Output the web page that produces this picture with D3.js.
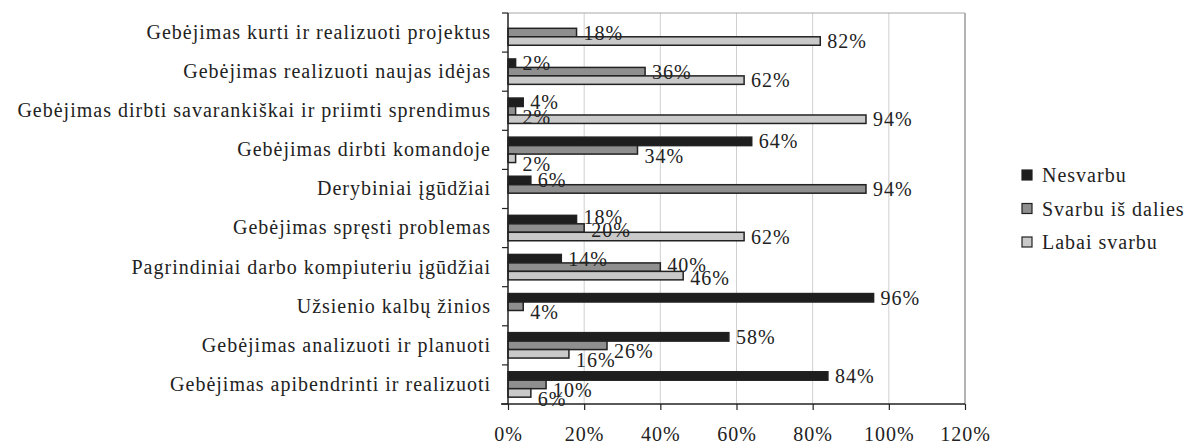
<!DOCTYPE html>
<html>
<head>
<meta charset="utf-8">
<script src="https://cdn.jsdelivr.net/npm/d3@7"></script>
<style>
  body { margin: 0; background: #fff; }
  svg text { font-family: "Liberation Serif", "Times New Roman", serif; fill: #222; font-size: 20px; letter-spacing: 1px; }
</style>
</head>
<body>
<svg></svg>
<script>
let categories = [
  'Gebėjimas kurti ir realizuoti projektus',
  'Gebėjimas realizuoti naujas idėjas',
  'Gebėjimas dirbti savarankiškai ir priimti sprendimus',
  'Gebėjimas dirbti komandoje',
  'Derybiniai įgūdžiai',
  'Gebėjimas spręsti problemas',
  'Pagrindiniai darbo kompiuteriu įgūdžiai',
  'Užsienio kalbų žinios',
  'Gebėjimas analizuoti ir planuoti',
  'Gebėjimas apibendrinti ir realizuoti'
]
let seriesNames = ['Nesvarbu', 'Svarbu iš dalies', 'Labai svarbu']
let nesvarbu = [0, 2, 4, 64, 6, 18, 14, 96, 58, 84]
let svarbuIsDalies = [18, 36, 2, 34, 94, 20, 40, 4, 26, 10]
let labaiSvarbu = [82, 62, 94, 2, 0, 62, 46, 0, 16, 6]
let xTicks = [0, 20, 40, 60, 80, 100, 120]

let colors = ['#1e1e1e', '#8f8f8f', '#c9c9c9']

let width = 1196
let height = 446
let plotLeft = 508
let plotRight = 965
let plotTop = 13
let plotBottom = 404

let svg = d3.select('svg')
  .attr('width', width)
  .attr('height', height)

let rows = categories.map((c, i) => {
  return {name: c, values: [nesvarbu[i], svarbuIsDalies[i], labaiSvarbu[i]]}
})

let xScale = d3.scaleLinear()
  .domain([0, 120])
  .range([plotLeft, plotRight])

let yScale = d3.scaleBand()
  .domain(categories)
  .range([plotTop, plotBottom])
  .paddingInner(0.35)
  .paddingOuter(0.175)

let subScale = d3.scaleBand()
  .domain(d3.range(seriesNames.length))
  .range([0, yScale.bandwidth()])

// gridlines
svg.append('g')
  .selectAll('line')
  .data(xTicks.slice(1))
  .enter()
  .append('line')
  .attr('x1', d => xScale(d))
  .attr('x2', d => xScale(d))
  .attr('y1', plotTop)
  .attr('y2', plotBottom)
  .attr('stroke', (d, i) => i === xTicks.length - 2 ? '#9a9a9a' : '#cfcfcf')
  .attr('stroke-width', (d, i) => i === xTicks.length - 2 ? 1.5 : 1)

svg.append('line')
  .attr('x1', plotLeft).attr('x2', plotRight)
  .attr('y1', plotTop).attr('y2', plotTop)
  .attr('stroke', '#a8a8a8')
  .attr('stroke-width', 1.2)

let barLayer = svg.append('g')
let labelLayer = svg.append('g')

// bars and value labels
rows.forEach(row => {
  let y0 = yScale(row.name)
  let labels = []
  row.values.forEach((v, s) => {
    if (v <= 0) return
    barLayer.append('rect')
      .attr('x', xScale(0))
      .attr('y', y0 + subScale(s))
      .attr('width', xScale(v) - xScale(0))
      .attr('height', subScale.bandwidth())
      .attr('fill', colors[s])
      .attr('stroke', '#222')
      .attr('stroke-width', 1.5)
    let x0 = xScale(v) + 7
    let t = labelLayer.append('text')
      .attr('x', x0)
      .attr('dy', '0.35em')
      .text(v + '%')
    let w = t.node().getComputedTextLength()
    // a longer bar just above would hide the top of the label: drop it a little
    let blocked = s > 0 && xScale(row.values[s - 1]) > x0 - 4
    labels.push({
      t: t, x0: x0, x1: x0 + w - 2, blocked: blocked,
      y: y0 + subScale(s) + subScale.bandwidth() / 2 + (blocked ? 6 : 0)
    })
  })
  // push apart labels that sit on top of each other
  let minGap = 13
  for (let k = 0; k < 6; k++) {
    for (let a = 0; a < labels.length; a++) {
      for (let b = a + 1; b < labels.length; b++) {
        let la = labels[a], lb = labels[b]
        if (la.x1 < lb.x0 || lb.x1 < la.x0) continue
        let gap = lb.y - la.y
        if (gap < minGap) {
          if (la.blocked) {
            lb.y += minGap - gap
          } else {
            let shift = (minGap - gap) / 2
            la.y -= shift
            lb.y += shift
          }
        }
      }
    }
  }
  labels.forEach(l => l.t.attr('y', Math.min(l.y, plotBottom - 5)))
})

// axes
let xAxis = d3.axisBottom(xScale)
  .tickValues(xTicks)
  .tickFormat(d => d + '%')
  .tickSize(6)
  .tickPadding(17)

let gx = svg.append('g')
  .attr('transform', 'translate(0,' + plotBottom + ')')
  .call(xAxis)
gx.attr('font-size', null).attr('font-family', null)
gx.select('.domain').remove()
gx.append('line')
  .attr('x1', plotLeft - 7).attr('x2', plotRight)
  .attr('stroke', '#222').attr('stroke-width', 1.5)
gx.selectAll('.tick line').attr('stroke', '#222').attr('stroke-width', 1.2)
gx.selectAll('.tick text').attr('fill', '#222')

let yAxis = d3.axisLeft(yScale).tickSize(0).tickPadding(17)
let gy = svg.append('g')
  .attr('transform', 'translate(' + plotLeft + ',0)')
  .call(yAxis)
gy.attr('font-size', null).attr('font-family', null)
gy.select('.domain').remove()
gy.append('line')
  .attr('y1', plotTop).attr('y2', plotBottom)
  .attr('stroke', '#222').attr('stroke-width', 1.5)
gy.selectAll('.tick text').attr('fill', '#222')

// category boundary ticks
let step = yScale.step()
gy.append('g')
  .selectAll('line')
  .data(d3.range(categories.length + 1))
  .enter()
  .append('line')
  .attr('x1', -6).attr('x2', 0)
  .attr('y1', d => plotTop + d * step)
  .attr('y2', d => plotTop + d * step)
  .attr('stroke', '#222')
  .attr('stroke-width', 1.2)

// legend
let legend = svg.append('g')
  .selectAll('g')
  .data(seriesNames)
  .enter()
  .append('g')
  .attr('transform', (d, i) => 'translate(1022,' + (175 + i * 33.5) + ')')

legend.append('rect')
  .attr('x', 0).attr('y', -5)
  .attr('width', 10).attr('height', 10)
  .attr('fill', (d, i) => colors[i])
  .attr('stroke', '#222')
  .attr('stroke-width', 1.2)

legend.append('text')
  .attr('x', 20)
  .attr('dy', '0.35em')
  .text(d => d)
</script>
</body>
</html>
